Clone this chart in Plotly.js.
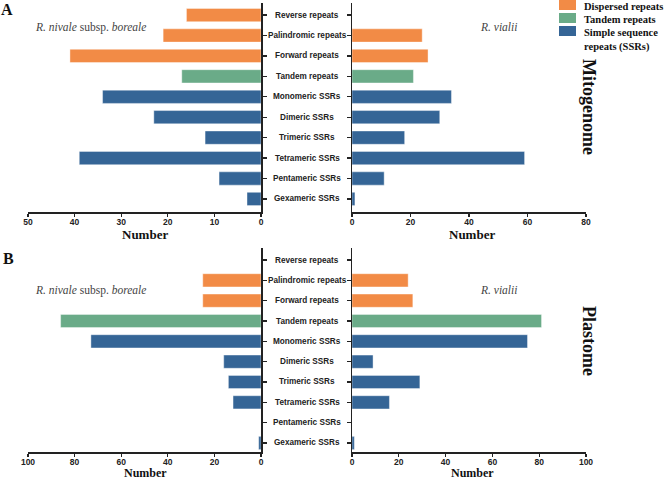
<!DOCTYPE html>
<html>
<head>
<meta charset="utf-8">
<script src="https://cdn.plot.ly/plotly-3.0.1.min.js"></script>
<style>html,body{margin:0;padding:0;background:#fff;}#chart{width:669px;height:480px;}</style>
</head>
<body>
<div id="chart"></div>
<script>
const categories = ['Reverse repeats','Palindromic repeats','Forward repeats','Tandem repeats','Monomeric SSRs','Dimeric SSRs','Trimeric SSRs','Tetrameric SSRs','Pentameric SSRs','Gexameric SSRs'];
const repeatGroup = ['Dispersed repeats','Dispersed repeats','Dispersed repeats','Tandem repeats','Simple sequence repeats (SSRs)','Simple sequence repeats (SSRs)','Simple sequence repeats (SSRs)','Simple sequence repeats (SSRs)','Simple sequence repeats (SSRs)','Simple sequence repeats (SSRs)'];
const mitoNivale = [16,21,41,17,34,23,12,39,9,3];
const mitoVialii = [0,24,26,21,34,30,18,59,11,1];
const plastNivale = [0,25,25,86,73,16,14,12,0,1];
const plastVialii = [0,24,26,81,75,9,29,16,0,1];
const legendLabels = ['Dispersed repeats','Tandem repeats','Simple sequence<br>repeats (SSRs)'];
const groupNames = ['Dispersed repeats','Tandem repeats','Simple sequence repeats (SSRs)'];
const groupColors = ['#F28B46','#6AAB88','#356596'];

const W = 669, H = 480;
const px = v => v / W;
const py = v => 1 - v / H;
const colorOf = g => groupColors[groupNames.indexOf(g)];
const barColors = repeatGroup.map(colorOf);
const barLines = barColors.map(() => 'rgba(255,255,255,0.5)');

function barTrace(vals, xa, ya) {
  return {type:'bar', orientation:'h', x: vals, y: categories, xaxis: xa, yaxis: ya,
    width: 0.65, marker:{color: barColors, line:{color: barLines, width:0.8}},
    hoverinfo:'x+y', showlegend:false};
}
const data = [
  barTrace(mitoNivale,'x','y'),
  barTrace(mitoVialii,'x2','y2'),
  barTrace(plastNivale,'x3','y3'),
  barTrace(plastVialii,'x4','y4')
];

const tickFont = {family:'Liberation Sans, Arial', size:8.5, color:'#222', weight:'bold'};
const titleFont = {family:'Liberation Serif, Times New Roman', size:13, color:'#111', weight:'bold'};
function xAxis(domain, range, dtick, anchor) {
  return {domain, range, dtick, anchor, showline:true, linecolor:'#222', linewidth:1.5,
    ticks:'outside', ticklen:3, tickwidth:1.3, tickcolor:'#222', showgrid:false, zeroline:false,
    ticklabelstandoff:-2, tickfont: tickFont, fixedrange:true};
}
function yAxis(domain, range, side, anchor) {
  return {domain, range, side, anchor, type:'category', categoryarray: categories, categoryorder:'array',
    showline:true, linecolor:'#222', linewidth:1.5, ticks:'outside', ticklen:4, tickwidth:1.3, tickcolor:'#222',
    showticklabels:false, showgrid:false, zeroline:false, fixedrange:true};
}
const xL = [px(28), px(261)], xR = [px(352), px(586)];
const yA = [py(212), py(3)], yB = [py(452), py(248)];
const rA = [9.64, -0.59], rB = [9.443, -0.59];

const annotations = [];
const catFont = {family:'Liberation Sans, Arial', size:8.2, color:'#222', weight:'bold'};
categories.forEach(c => {
  annotations.push({xref:'paper', yref:'y', x:px(307), y:c, text:c, showarrow:false, xanchor:'center', yanchor:'middle', font:catFont});
  annotations.push({xref:'paper', yref:'y3', x:px(307), y:c, text:c, showarrow:false, xanchor:'center', yanchor:'middle', font:catFont});
});
const spFont = {family:'Liberation Serif, Times New Roman', size:11.5, color:'#444'};
const big = s => ({family:'Liberation Serif, Times New Roman', size:s, color:'#111', weight:'bold'});
function note(x, y, text, font, extra) {
  annotations.push(Object.assign({xref:'paper', yref:'paper', x:px(x), y:py(y), text, showarrow:false, xanchor:'center', yanchor:'middle', font}, extra || {}));
}
note(90, 27, '<i>R. nivale</i> subsp. <i>boreale</i>', spFont);
note(498, 27, '<i>R. vialii</i>', spFont);
note(90, 290, '<i>R. nivale</i> subsp. <i>boreale</i>', spFont);
note(498, 290, '<i>R. vialii</i>', spFont);
note(7, 9, 'A', big(16));
note(8, 258, 'B', big(16));
note(589, 107, 'Mitogenome', big(18), {textangle:90});
note(589, 341, 'Plastome', big(18), {textangle:90});
note(145, 235, 'Number', titleFont);
note(472, 235, 'Number', titleFont);
note(145, 473, 'Number', big(12));
note(472, 473, 'Number', big(12));

const shapes = [];
const legY = [5, 18, 31];
legendLabels.forEach((lab, i) => {
  shapes.push({type:'rect', xref:'paper', yref:'paper', x0:px(559), x1:px(576), y0:py(legY[i]-5), y1:py(legY[i]+5), fillcolor:groupColors[i], line:{width:0}});
  annotations.push({xref:'paper', yref:'paper', x:px(582), y:py(legY[i]-6), xanchor:'left', yanchor:'top', align:'left', text:lab, showarrow:false,
    font:{family:'Liberation Serif, Times New Roman', size:10.5, color:'#111', weight:'bold'}});
});

const layout = {
  width:W, height:H, margin:{l:0,r:0,t:0,b:0}, paper_bgcolor:'#fff', plot_bgcolor:'#fff',
  showlegend:false, barmode:'overlay',
  xaxis: xAxis(xL, [50,0], 10, 'y'),
  xaxis2: xAxis(xR, [0,80], 20, 'y2'),
  xaxis3: xAxis(xL, [100,0], 20, 'y3'),
  xaxis4: xAxis(xR, [0,100], 20, 'y4'),
  yaxis: yAxis(yA, rA, 'right', 'x'),
  yaxis2: yAxis(yA, rA, 'left', 'x2'),
  yaxis3: yAxis(yB, rB, 'right', 'x3'),
  yaxis4: yAxis(yB, rB, 'left', 'x4'),
  annotations, shapes
};
Plotly.newPlot('chart', data, layout, {displayModeBar:false, staticPlot:true});
</script>
</body>
</html>
